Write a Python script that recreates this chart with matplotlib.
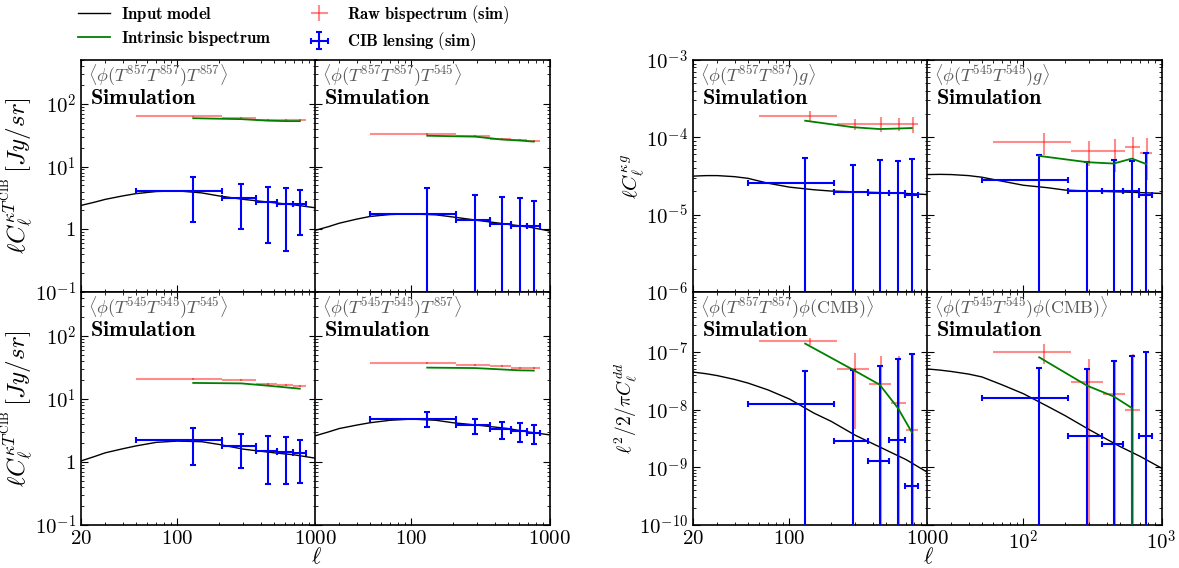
import numpy as np
import matplotlib
matplotlib.use('Agg')
import matplotlib.pyplot as plt
from matplotlib.ticker import FixedLocator, FixedFormatter, FuncFormatter, LogLocator, NullFormatter

plt.rcParams['font.family'] = 'serif'
plt.rcParams['font.serif'] = ['cmr10', 'DejaVu Serif']
plt.rcParams['mathtext.fontset'] = 'cm'
plt.rcParams['axes.formatter.use_mathtext'] = True
plt.rcParams['axes.linewidth'] = 1.2


# binning used for the simulated points
ell_bins = np.array([130, 290, 450, 610, 770])
bin_half = 80
ell_model = np.array([20, 25, 30, 40, 50, 70, 100, 150, 200, 300, 500, 700, 1000])

# <phi(T857 T857) T857>
p1_model = [2.4, 2.7, 3.0, 3.4, 3.7, 4.0, 4.1, 3.8, 3.4, 3.0, 2.65, 2.45, 2.2]
p1_raw = [63, 60, 56, 55, 55]
p1_raw_err = [2, 2, 2, 2, 2]
p1_intr = [59, 57, 54, 53, 53]
p1_lens = [4.1, 3.1, 2.7, 2.5, 2.5]
p1_lens_err = [2.8, 2.1, 2.1, 2.05, 1.7]

# <phi(T857 T857) T545>
p2_model = [0.96, 1.1, 1.25, 1.45, 1.6, 1.72, 1.76, 1.7, 1.57, 1.39, 1.2, 1.09, 0.94]
p2_raw = [33, 31, 28, 27, 26]
p2_raw_err = [1, 1, 1, 1, 1]
p2_intr = [31, 30, 27, 26, 25]
p2_lens = [1.77, 1.42, 1.21, 1.11, 1.11]
p2_lens_err = [2.7, 2.15, 2.1, 2.1, 1.76]

# <phi(T545 T545) T545>
p3_model = [1.04, 1.22, 1.4, 1.62, 1.8, 2.05, 2.15, 2.1, 1.9, 1.6, 1.4, 1.3, 1.15]
p3_raw = [20.5, 20, 17.5, 16.7, 16]
p3_raw_err = [0.7, 0.7, 0.7, 0.7, 0.7]
p3_intr = [18, 17.7, 16.3, 15.3, 14.6]
p3_lens = [2.2, 1.8, 1.5, 1.45, 1.37]
p3_lens_err = [1.3, 1.0, 1.05, 1.0, 0.9]

# <phi(T545 T545) T857>
p4_model = [2.6, 3.0, 3.4, 3.85, 4.2, 4.6, 4.8, 4.6, 4.2, 3.85, 3.4, 3.0, 2.7]
p4_raw = [37, 35, 33, 31.5, 31]
p4_raw_err = [1.2, 1.2, 1.2, 1.2, 1.2]
p4_intr = [31.5, 31, 29.5, 28.5, 28.3]
p4_lens = [4.9, 3.8, 3.3, 3.1, 2.9]
p4_lens_err = [1.3, 1.05, 1.0, 1.0, 0.95]

# <phi(T857 T857) g>
p5_model = [3.15e-5, 3.2e-5, 3.2e-5, 3.1e-5, 2.95e-5, 2.55e-5, 2.27e-5, 2.1e-5, 2.02e-5,
            1.97e-5, 1.92e-5, 1.88e-5, 1.82e-5]
p5_raw = [1.9e-4, 1.5e-4, 1.5e-4, 1.5e-4, 1.5e-4]
p5_raw_err = [0.3e-4, 0.24e-4, 0.33e-4, 0.3e-4, 0.35e-4]
p5_intr = [1.64e-4, 1.35e-4, 1.28e-4, 1.3e-4, 1.32e-4]
p5_lens = [2.56e-5, 1.98e-5, 1.92e-5, 1.9e-5, 1.81e-5]
p5_lens_err = [2.9e-5, 2.46e-5, 3.1e-5, 3.1e-5, 3.5e-5]

# <phi(T545 T545) g>
p6_model = [3.3e-5, 3.32e-5, 3.3e-5, 3.2e-5, 3.05e-5, 2.71e-5, 2.4e-5, 2.23e-5, 2.08e-5,
            2.02e-5, 1.97e-5, 1.93e-5, 1.88e-5]
p6_raw = [8.6e-5, 6.7e-5, 6.6e-5, 7.4e-5, 6.3e-5]
p6_raw_err = [2.7e-5, 2.4e-5, 3.0e-5, 2.6e-5, 3.5e-5]
p6_intr = [5.75e-5, 4.77e-5, 4.58e-5, 5.31e-5, 4.54e-5]
p6_lens = [2.79e-5, 2.02e-5, 2.0e-5, 2.0e-5, 1.79e-5]
p6_lens_err = [3.07e-5, 2.8e-5, 3.1e-5, 3.0e-5, 4.4e-5]

# <phi(T857 T857) phi(CMB)>
p7_model = [4.5e-8, 4.2e-8, 3.9e-8, 3.35e-8, 2.9e-8, 2.2e-8, 1.53e-8, 8.75e-9, 6.3e-9,
            3.6e-9, 2.0e-9, 1.36e-9, 8.2e-10]
p7_raw = [1.53e-7, 5.07e-8, 2.82e-8, 1.32e-8, 4.4e-9]
p7_raw_err = [2.3e-8, 4.6e-8, 5.6e-8, 7.1e-8, 8.6e-8]
p7_intr = [1.4e-7, 4.9e-8, 2.72e-8, 1.07e-8, 4.05e-9]
p7_lens = [1.25e-8, 2.82e-9, 1.3e-9, 3.0e-9, 4.7e-10]
p7_lens_err = [3.5e-8, 4.66e-8, 5.7e-8, 7.4e-8, 9.2e-8]

# <phi(T545 T545) phi(CMB)>
p8_model = [5.1e-8, 4.85e-8, 4.6e-8, 4.15e-8, 3.7e-8, 2.7e-8, 1.89e-8, 1.14e-8, 7.9e-9,
            4.5e-9, 2.3e-9, 1.55e-9, 9.7e-10]
p8_raw = [9.9e-8, 2.98e-8, 1.89e-8, 1.0e-8, np.nan]
p8_raw_err = [3.8e-8, 4.7e-8, 5.3e-8, 8.3e-8, np.nan]
p8_intr = [8.1e-8, 2.6e-8, 1.7e-8, 1.07e-8, -1e-8]
p8_lens = [1.59e-8, 3.45e-9, 2.54e-9, -1.5e-8, 3.54e-9]
p8_lens_err = [3.8e-8, 4.8e-8, 6.8e-8, 1.0e-7, 9.5e-8]

titles = [r'$\langle\phi(T^{857}T^{857})T^{857}\rangle$',
          r'$\langle\phi(T^{857}T^{857})T^{545}\rangle$',
          r'$\langle\phi(T^{545}T^{545})T^{545}\rangle$',
          r'$\langle\phi(T^{545}T^{545})T^{857}\rangle$',
          r'$\langle\phi(T^{857}T^{857})g\rangle$',
          r'$\langle\phi(T^{545}T^{545})g\rangle$',
          r'$\langle\phi(T^{857}T^{857})\phi(\mathrm{CMB})\rangle$',
          r'$\langle\phi(T^{545}T^{545})\phi(\mathrm{CMB})\rangle$']


def log_label(v, pos):
    n = int(round(np.log10(v)))
    if n == 0:
        return r'$1$'
    return r'$10^{%d}$' % n


def draw_panel(ax, model, raw, raw_err, intr, lens, lens_err, title, shift):
    h_model, = ax.plot(ell_model, model, color='black', lw=1.0, zorder=2)
    h_raw = ax.errorbar(ell_bins + shift, raw, xerr=bin_half, yerr=raw_err, fmt='none',
                        ecolor='red', elinewidth=1.5, alpha=0.45, zorder=1)
    h_lens = ax.errorbar(ell_bins, lens, xerr=bin_half, yerr=lens_err, fmt='none',
                         ecolor='blue', elinewidth=1.5, capsize=2, capthick=1.5, zorder=3)
    h_intr, = ax.plot(ell_bins, intr, color='green', lw=1.3, zorder=4)
    ax.set_xscale('log')
    ax.set_yscale('log')
    ax.set_xlim(20, 1000)
    ax.text(0.03, 0.99, title, transform=ax.transAxes, va='top', ha='left',
            fontsize=13, color='0.35')
    ax.text(0.04, 0.835, r'$\mathbf{Simulation}$', transform=ax.transAxes, va='center',
            ha='left', fontsize=16)
    ax.tick_params(which='both', direction='in', top=True, right=True, labelsize=15)
    ax.tick_params(which='major', length=5)
    ax.tick_params(which='minor', length=2.5)
    ax.xaxis.set_minor_formatter(NullFormatter())
    ax.yaxis.set_minor_locator(LogLocator(base=10, subs=np.arange(2, 10)))
    ax.yaxis.set_minor_formatter(NullFormatter())
    return h_model, h_intr, h_raw, h_lens


fig = plt.figure(figsize=(11.79, 5.68), dpi=100)
W, H = 1179.0, 568.0
col_x = [81, 315, 693, 927]
row_y = [(60, 292), (292, 525)]

panels = [
    (p1_model, p1_raw, p1_raw_err, p1_intr, p1_lens, p1_lens_err),
    (p2_model, p2_raw, p2_raw_err, p2_intr, p2_lens, p2_lens_err),
    (p3_model, p3_raw, p3_raw_err, p3_intr, p3_lens, p3_lens_err),
    (p4_model, p4_raw, p4_raw_err, p4_intr, p4_lens, p4_lens_err),
    (p5_model, p5_raw, p5_raw_err, p5_intr, p5_lens, p5_lens_err),
    (p6_model, p6_raw, p6_raw_err, p6_intr, p6_lens, p6_lens_err),
    (p7_model, p7_raw, p7_raw_err, p7_intr, p7_lens, p7_lens_err),
    (p8_model, p8_raw, p8_raw_err, p8_intr, p8_lens, p8_lens_err),
]
# (column, row) for each panel
layout = [(0, 0), (1, 0), (0, 1), (1, 1), (2, 0), (3, 0), (2, 1), (3, 1)]

handles = None
for i, (data, (c, r)) in enumerate(zip(panels, layout)):
    x0 = col_x[c]
    width = 234.5
    y_top, y_bot = row_y[r]
    ax = fig.add_axes([x0 / W, 1 - y_bot / H, width / W, (y_bot - y_top) / H])
    shift = 0 if c < 2 else 10
    hs = draw_panel(ax, *data, titles[i], shift)
    if handles is None:
        handles = hs

    if c < 2:
        ax.set_ylim(0.1, 500)
        ax.yaxis.set_major_locator(FixedLocator([0.1, 1, 10, 100]))
    elif r == 0:
        ax.set_ylim(1e-6, 1e-3)
        ax.yaxis.set_major_locator(FixedLocator([1e-6, 1e-5, 1e-4, 1e-3]))
    else:
        ax.set_ylim(1e-10, 1.1e-6)
        ax.yaxis.set_major_locator(FixedLocator([1e-10, 1e-9, 1e-8, 1e-7]))
    ax.yaxis.set_major_formatter(FuncFormatter(log_label))

    if c == 3:
        ax.xaxis.set_major_locator(FixedLocator([100, 1000]))
        ax.xaxis.set_major_formatter(FixedFormatter([r'$10^2$', r'$10^3$']))
    elif c == 1:
        ax.xaxis.set_major_locator(FixedLocator([100, 1000]))
        ax.xaxis.set_major_formatter(FixedFormatter([r'$100$', r'$1000$']))
    else:
        ax.xaxis.set_major_locator(FixedLocator([20, 100, 1000]))
        ax.xaxis.set_major_formatter(FixedFormatter([r'$20$', r'$100$', r'$1000$']))

    if r == 0:
        ax.tick_params(labelbottom=False)
    if c in (1, 3):
        ax.tick_params(labelleft=False)

    if c == 0:
        ax.set_ylabel(r'$\ell C_\ell^{\kappa T^{\rm CIB}}\,\left[Jy/sr\right]$', fontsize=18, labelpad=0)
    elif c == 2 and r == 0:
        ax.set_ylabel(r'$\ell C_\ell^{\kappa\, g}$', fontsize=15, labelpad=0)
    elif c == 2:
        ax.set_ylabel(r'$\ell^2/2/\pi C_\ell^{dd}$', fontsize=14, labelpad=0)

fig.text(316 / W, 1 - 557 / H, r'$\ell$', fontsize=16, ha='center', va='center')
fig.text(928 / W, 1 - 557 / H, r'$\ell$', fontsize=16, ha='center', va='center')

labels = [r'$\mathbf{Input\ model}$', r'$\mathbf{Intrinsic\ bispectrum}$',
          r'$\mathbf{Raw\ bispectrum\ (sim)}$', r'$\mathbf{CIB\ lensing\ (sim)}$']
fig.legend(handles, labels, loc='upper left', bbox_to_anchor=(78 / W, 1 - 3 / H), ncol=2,
           frameon=False, fontsize=12, handlelength=1.9, handletextpad=0.7,
           columnspacing=1.9, labelspacing=0.3, borderpad=0, borderaxespad=0)

fig.savefig('out.png', dpi=100)
